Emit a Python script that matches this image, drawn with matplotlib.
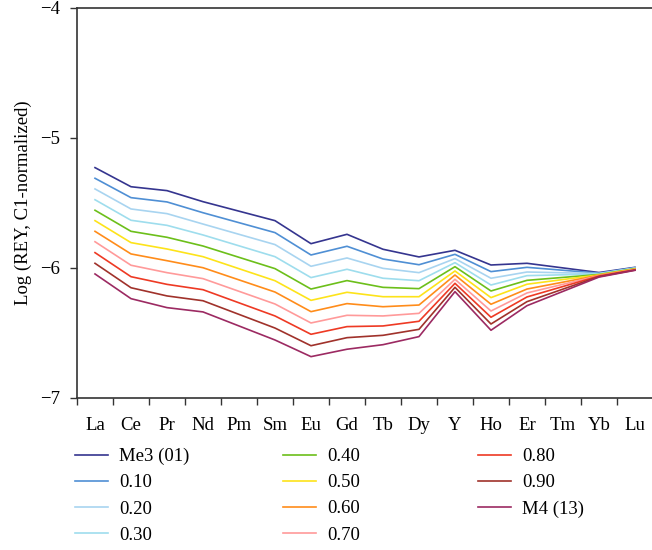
import matplotlib
matplotlib.use("Agg")
import matplotlib.pyplot as plt

plt.rcParams["font.family"] = ["Liberation Serif", "DejaVu Serif"]
plt.rcParams["font.size"] = 13.5

# REY elements (Pm and Tm have no data)
elements = ["La", "Ce", "Pr", "Nd", "Pm", "Sm", "Eu", "Gd", "Tb", "Dy",
            "Y", "Ho", "Er", "Tm", "Yb", "Lu"]

# Log (REY, C1-normalized) per mixing series
me3_01 = [-5.228, -5.375, -5.405, -5.490, None, -5.636, -5.813, -5.741, -5.856, -5.915, -5.864, -5.977, -5.964, None, -6.035, -5.995]
mix_010 = [-5.310, -5.459, -5.492, -5.575, None, -5.728, -5.900, -5.833, -5.931, -5.975, -5.895, -6.028, -5.995, None, -6.040, -5.998]
mix_020 = [-5.392, -5.546, -5.582, -5.662, None, -5.820, -5.987, -5.923, -6.003, -6.036, -5.928, -6.079, -6.031, None, -6.043, -6.000]
mix_030 = [-5.475, -5.633, -5.672, -5.746, None, -5.913, -6.074, -6.010, -6.079, -6.098, -5.959, -6.131, -6.059, None, -6.046, -6.003]
mix_040 = [-5.556, -5.718, -5.764, -5.831, None, -6.005, -6.162, -6.097, -6.149, -6.159, -5.990, -6.177, -6.095, None, -6.050, -6.005]
mix_050 = [-5.636, -5.805, -5.854, -5.913, None, -6.098, -6.249, -6.187, -6.221, -6.221, -6.023, -6.228, -6.125, None, -6.053, -6.008]
mix_060 = [-5.718, -5.892, -5.944, -5.998, None, -6.185, -6.336, -6.274, -6.298, -6.285, -6.054, -6.279, -6.162, None, -6.056, -6.010]
mix_070 = [-5.798, -5.979, -6.036, -6.082, None, -6.277, -6.423, -6.364, -6.369, -6.349, -6.087, -6.331, -6.192, None, -6.059, -6.012]
mix_080 = [-5.882, -6.067, -6.126, -6.167, None, -6.369, -6.510, -6.451, -6.446, -6.410, -6.118, -6.379, -6.223, None, -6.062, -6.014]
mix_090 = [-5.964, -6.152, -6.215, -6.252, None, -6.462, -6.598, -6.536, -6.518, -6.472, -6.149, -6.431, -6.259, None, -6.066, -6.016]
m4_13 = [-6.046, -6.236, -6.305, -6.338, None, -6.554, -6.682, -6.625, -6.590, -6.528, -6.182, -6.479, -6.290, None, -6.070, -6.018]

series = [me3_01, mix_010, mix_020, mix_030, mix_040, mix_050,
          mix_060, mix_070, mix_080, mix_090, m4_13]
labels = ["Me3 (01)", "0.10", "0.20", "0.30", "0.40", "0.50",
          "0.60", "0.70", "0.80", "0.90", "M4 (13)"]
colors = ["#35358f", "#4f8fd4", "#a8d4f0", "#9edded", "#6cbf1a", "#fde31a",
          "#ff8c1a", "#ff9a9a", "#ee3a24", "#a0322b", "#9c2a62"]

fig = plt.figure(figsize=(6.52, 5.5), dpi=100)
ax = fig.add_axes([0.1181, 0.2764, 0.8834, 0.7091])

handles = []
for vals, lab, col in zip(series, labels, colors):
    xs = [i for i, v in enumerate(vals) if v is not None]
    ys = [v for v in vals if v is not None]
    h, = ax.plot(xs, ys, color=col, lw=1.2, label=lab)
    handles.append(h)

ax.set_xlim(-0.5, len(elements) - 0.5)
ax.set_ylim(-7, -4)
ax.set_yticks([-7, -6, -5, -4])
ax.set_xticks(range(len(elements)))
ax.set_xticklabels(elements)
# ticks sit between categories
ax.set_xticks([i - 0.5 for i in range(len(elements) + 1)], minor=True)
ax.tick_params(axis="x", which="major", length=0, pad=14)
ax.tick_params(axis="x", which="minor", length=5, width=1, color="#333333")
ax.tick_params(axis="y", length=5, width=1, color="#333333", pad=7)
ax.set_ylabel("Log (REY, C1-normalized)", labelpad=6)

for s in ["left", "bottom", "top"]:
    ax.spines[s].set_color("#333333")
    ax.spines[s].set_linewidth(1.2)
ax.spines["right"].set_visible(False)

# legend in three columns below the plot
groups = [(0, 4, 75), (4, 8, 283), (8, 11, 478)]
for a, b, xpix in groups:
    leg = fig.legend(handles[a:b], labels[a:b], loc="upper left",
                     bbox_to_anchor=(xpix / 652, 1 - 448 / 550),
                     frameon=False, borderpad=0, borderaxespad=0,
                     handlelength=1.75, handletextpad=0.6, labelspacing=0.48)

fig.savefig("out.png", dpi=100)
